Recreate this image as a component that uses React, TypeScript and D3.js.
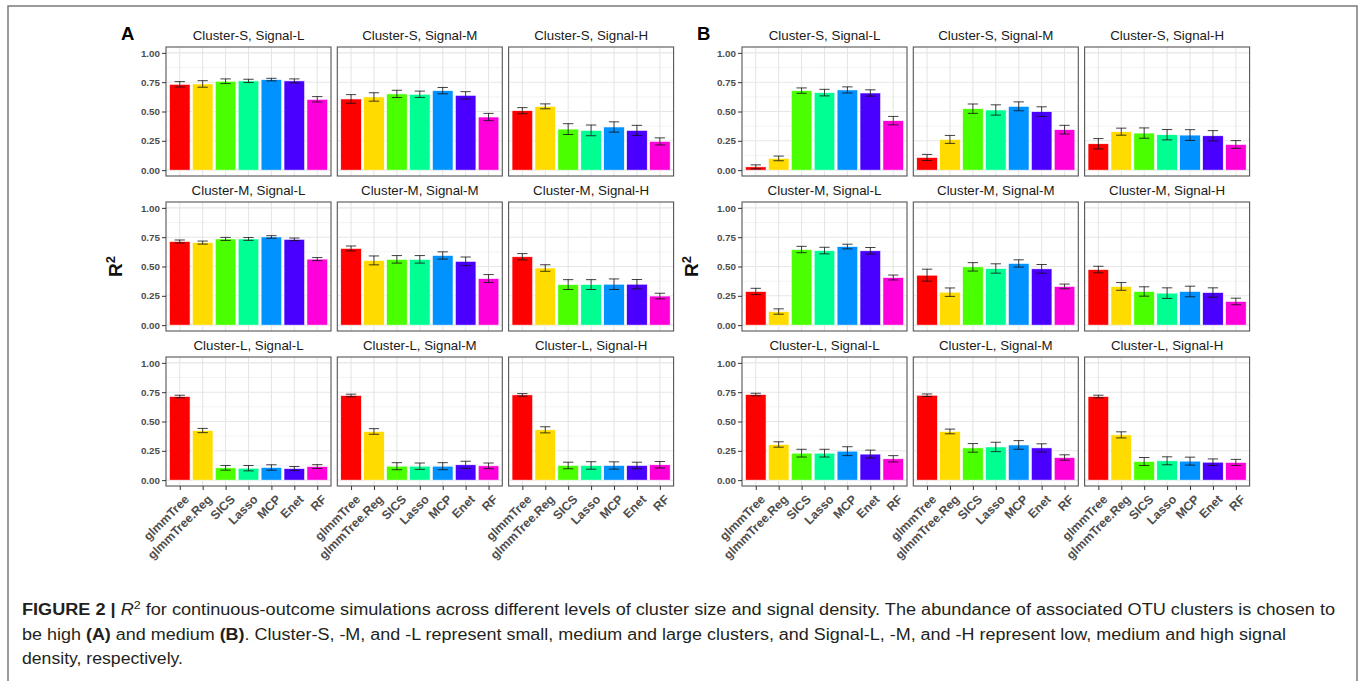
import React, { useEffect, useRef } from 'react';
import * as d3 from 'd3';

const methods = ['glmmTree', 'glmmTree.Reg', 'SICS', 'Lasso', 'MCP', 'Enet', 'RF'];
const methodColors = ['#FF0000', '#FFDB00', '#49FF00', '#00FF92', '#0092FF', '#4900FF', '#FF00DB'];
const clusterLevels = ['Cluster-S', 'Cluster-M', 'Cluster-L'];
const signalLevels = ['Signal-L', 'Signal-M', 'Signal-H'];
const yTicks = [0, 0.25, 0.5, 0.75, 1];
const yMinor = [0.125, 0.375, 0.625, 0.875];

// panel A (high abundance), one row per cluster x signal, values per method
const meanA = [
  [0.732, 0.735, 0.758, 0.761, 0.772, 0.761, 0.604],
  [0.607, 0.624, 0.65, 0.647, 0.678, 0.638, 0.453],
  [0.507, 0.544, 0.35, 0.339, 0.368, 0.339, 0.245],
  [0.713, 0.704, 0.735, 0.735, 0.752, 0.732, 0.563],
  [0.654, 0.552, 0.561, 0.561, 0.594, 0.544, 0.397],
  [0.583, 0.487, 0.346, 0.346, 0.349, 0.349, 0.248],
  [0.713, 0.423, 0.105, 0.102, 0.108, 0.099, 0.116],
  [0.722, 0.415, 0.119, 0.119, 0.119, 0.131, 0.122],
  [0.727, 0.429, 0.125, 0.125, 0.125, 0.125, 0.131],
];
const errA = [
  [0.023, 0.028, 0.02, 0.014, 0.011, 0.017, 0.023],
  [0.037, 0.036, 0.031, 0.027, 0.027, 0.031, 0.031],
  [0.026, 0.021, 0.046, 0.046, 0.044, 0.043, 0.03],
  [0.013, 0.013, 0.013, 0.012, 0.011, 0.011, 0.013],
  [0.021, 0.038, 0.032, 0.032, 0.031, 0.037, 0.034],
  [0.027, 0.028, 0.042, 0.042, 0.045, 0.04, 0.024],
  [0.011, 0.018, 0.02, 0.023, 0.023, 0.017, 0.016],
  [0.011, 0.024, 0.03, 0.027, 0.03, 0.03, 0.024],
  [0.011, 0.026, 0.028, 0.032, 0.031, 0.028, 0.028],
];

// panel B (medium abundance)
const meanB = [
  [0.028, 0.1, 0.678, 0.661, 0.684, 0.658, 0.422],
  [0.108, 0.262, 0.524, 0.513, 0.544, 0.499, 0.345],
  [0.225, 0.328, 0.316, 0.302, 0.299, 0.293, 0.219],
  [0.287, 0.116, 0.645, 0.636, 0.67, 0.634, 0.406],
  [0.426, 0.281, 0.497, 0.483, 0.526, 0.48, 0.33],
  [0.474, 0.33, 0.287, 0.273, 0.287, 0.278, 0.202],
  [0.73, 0.304, 0.23, 0.23, 0.247, 0.222, 0.182],
  [0.724, 0.415, 0.275, 0.283, 0.3, 0.275, 0.193],
  [0.713, 0.386, 0.159, 0.165, 0.162, 0.153, 0.151],
];
const errB = [
  [0.017, 0.02, 0.023, 0.028, 0.026, 0.027, 0.036],
  [0.026, 0.034, 0.04, 0.044, 0.038, 0.041, 0.037],
  [0.044, 0.03, 0.044, 0.044, 0.046, 0.044, 0.033],
  [0.027, 0.023, 0.027, 0.028, 0.02, 0.028, 0.021],
  [0.051, 0.036, 0.036, 0.04, 0.031, 0.037, 0.02],
  [0.028, 0.033, 0.04, 0.045, 0.045, 0.04, 0.028],
  [0.011, 0.023, 0.033, 0.033, 0.038, 0.034, 0.027],
  [0.011, 0.02, 0.037, 0.04, 0.037, 0.035, 0.023],
  [0.011, 0.026, 0.034, 0.034, 0.034, 0.028, 0.026],
];

const FONT = '"Liberation Sans", Arial, Helvetica, sans-serif';

const App: React.FC = () => {
  const svgRef = useRef<SVGSVGElement>(null);

  useEffect(() => {
    if (!svgRef.current) return;
    const svg = d3.select(svgRef.current);
    svg.selectAll('*').remove();

    svg.append('rect').attr('width', 1360).attr('height', 681).attr('fill', '#fff');
    // outer frame (no bottom edge visible)
    svg.append('path')
      .attr('d', 'M8,690 L8,6 L1357,6 L1357,690')
      .attr('fill', 'none')
      .attr('stroke', '#7a7a7a')
      .attr('stroke-width', 1.5);

    const panelW = 165;
    const panelH = 129;
    const colStep = 171.3;
    const rowStep = 155;
    const top0 = 47;

    const figures = [
      { label: 'A', left: 166, means: meanA, errs: errA },
      { label: 'B', left: 742, means: meanB, errs: errB },
    ];

    figures.forEach(fig => {
      const g = svg.append('g').style('font-family', FONT);

      g.append('text')
        .attr('x', fig.left - 45)
        .attr('y', 40)
        .style('font-size', '18.5px')
        .style('font-weight', 'bold')
        .text(fig.label);

      const yLab = g.append('text')
        .attr('transform', `translate(${fig.left - 44},${top0 + rowStep + panelH / 2}) rotate(-90)`)
        .attr('text-anchor', 'middle')
        .style('font-size', '19px')
        .style('font-weight', 'bold')
        .attr('fill', '#111');
      yLab.append('tspan').text('R');
      yLab.append('tspan').attr('dy', -7).style('font-size', '13px').text('2');

      clusterLevels.forEach((cl, r) => {
        signalLevels.forEach((sg, c) => {
          const k = r * 3 + c;
          const px = fig.left + c * colStep;
          const py = top0 + r * rowStep;

          const y = d3.scaleLinear().domain([-0.05, 1.05]).range([py + panelH, py]);
          const x = d3.scalePoint<string>().domain(methods).range([px, px + panelW]).padding(0.6);
          const bw = x.step() * 0.9;

          const pg = g.append('g');

          // grid
          pg.selectAll('line.minor')
            .data(yMinor)
            .join('line')
            .attr('x1', px).attr('x2', px + panelW)
            .attr('y1', d => y(d)).attr('y2', d => y(d))
            .attr('stroke', '#ebebeb').attr('stroke-width', 0.6);
          pg.selectAll('line.major')
            .data(yTicks)
            .join('line')
            .attr('x1', px).attr('x2', px + panelW)
            .attr('y1', d => y(d)).attr('y2', d => y(d))
            .attr('stroke', '#e6e6e6').attr('stroke-width', 1.1);
          pg.selectAll('line.vgrid')
            .data(methods)
            .join('line')
            .attr('x1', d => x(d)!).attr('x2', d => x(d)!)
            .attr('y1', py).attr('y2', py + panelH)
            .attr('stroke', '#e6e6e6').attr('stroke-width', 1.1);

          const rows = methods.map((m, i) => ({
            m,
            v: fig.means[k][i],
            e: fig.errs[k][i],
            color: methodColors[i],
          }));

          // bars
          pg.selectAll('rect.bar')
            .data(rows)
            .join('rect')
            .attr('x', d => x(d.m)! - bw / 2)
            .attr('y', d => y(d.v))
            .attr('width', bw)
            .attr('height', d => y(0) - y(d.v))
            .attr('fill', d => d.color)
            .attr('stroke', '#ffffff')
            .attr('stroke-width', 0.6);

          // error bars
          const cap = bw * 0.25;
          const eb = pg.selectAll('g.err').data(rows).join('g');
          eb.append('line')
            .attr('x1', d => x(d.m)!).attr('x2', d => x(d.m)!)
            .attr('y1', d => y(d.v - d.e)).attr('y2', d => y(d.v + d.e));
          eb.append('line')
            .attr('x1', d => x(d.m)! - cap).attr('x2', d => x(d.m)! + cap)
            .attr('y1', d => y(d.v + d.e)).attr('y2', d => y(d.v + d.e));
          eb.append('line')
            .attr('x1', d => x(d.m)! - cap).attr('x2', d => x(d.m)! + cap)
            .attr('y1', d => y(d.v - d.e)).attr('y2', d => y(d.v - d.e));
          eb.selectAll('line').attr('stroke', '#111').attr('stroke-width', 0.8);

          // panel border
          pg.append('rect')
            .attr('x', px).attr('y', py)
            .attr('width', panelW).attr('height', panelH)
            .attr('fill', 'none')
            .attr('stroke', '#555')
            .attr('stroke-width', 1.1);

          // strip title
          pg.append('text')
            .attr('x', px + panelW / 2)
            .attr('y', py - 7)
            .attr('text-anchor', 'middle')
            .style('font-size', '13.3px')
            .attr('fill', '#1a1a1a')
            .text(`${cl}, ${sg}`);

          if (c === 0) {
            const ax = pg.append('g')
              .attr('transform', `translate(${px},0)`)
              .call(d3.axisLeft(y).tickValues(yTicks).tickSize(4).tickPadding(2).tickFormat(d3.format('.2f')));
            ax.select('.domain').remove();
            ax.selectAll('line').attr('stroke', '#333');
            ax.selectAll('text')
              .attr('fill', '#4d4d4d')
              .style('font-family', FONT)
              .style('font-size', '9.8px')
              .style('font-weight', 'bold');
          }

          if (r === 2) {
            const ax = pg.append('g')
              .attr('transform', `translate(0,${py + panelH})`)
              .call(d3.axisBottom(x).tickSize(4).tickFormat(() => ''));
            ax.select('.domain').remove();
            ax.selectAll('line').attr('stroke', '#333');
            pg.selectAll('text.xlab')
              .data(methods)
              .join('text')
              .attr('transform', d => `translate(${x(d)! + 4},${py + panelH + 8}) rotate(-45)`)
              .attr('text-anchor', 'end')
              .attr('dy', '0.7em')
              .attr('fill', '#4d4d4d')
              .style('font-size', '12.3px')
              .style('font-weight', 'bold')
              .text(d => d);
          }
        });
      });
    });

    // caption
    const cap = svg.append('g').style('font-family', FONT).attr('fill', '#231f20').style('font-size', '16px');
    const l1 = cap.append('text')
      .attr('x', 22).attr('y', 615)
      .attr('textLength', 1313).attr('lengthAdjust', 'spacingAndGlyphs');
    l1.append('tspan').style('font-weight', 'bold').text('FIGURE 2 | ');
    l1.append('tspan').style('font-style', 'italic').text('R');
    l1.append('tspan').attr('dy', -6).style('font-size', '11px').text('2');
    l1.append('tspan').attr('dy', 6).text(' for continuous-outcome simulations across different levels of cluster size and signal density. The abundance of associated OTU clusters is chosen to');

    const l2 = cap.append('text')
      .attr('x', 22).attr('y', 640)
      .attr('textLength', 1264).attr('lengthAdjust', 'spacingAndGlyphs');
    l2.append('tspan').text('be high ');
    l2.append('tspan').style('font-weight', 'bold').text('(A)');
    l2.append('tspan').text(' and medium ');
    l2.append('tspan').style('font-weight', 'bold').text('(B)');
    l2.append('tspan').text('. Cluster-S, -M, and -L represent small, medium and large clusters, and Signal-L, -M, and -H represent low, medium and high signal');

    cap.append('text')
      .attr('x', 22).attr('y', 664)
      .attr('textLength', 161).attr('lengthAdjust', 'spacingAndGlyphs')
      .text('density, respectively.');
  }, []);

  return (
    <svg
      ref={svgRef}
      width={1360}
      height={681}
      style={{ position: 'absolute', left: 0, top: 0, display: 'block' }}
    />
  );
};

export default App;
